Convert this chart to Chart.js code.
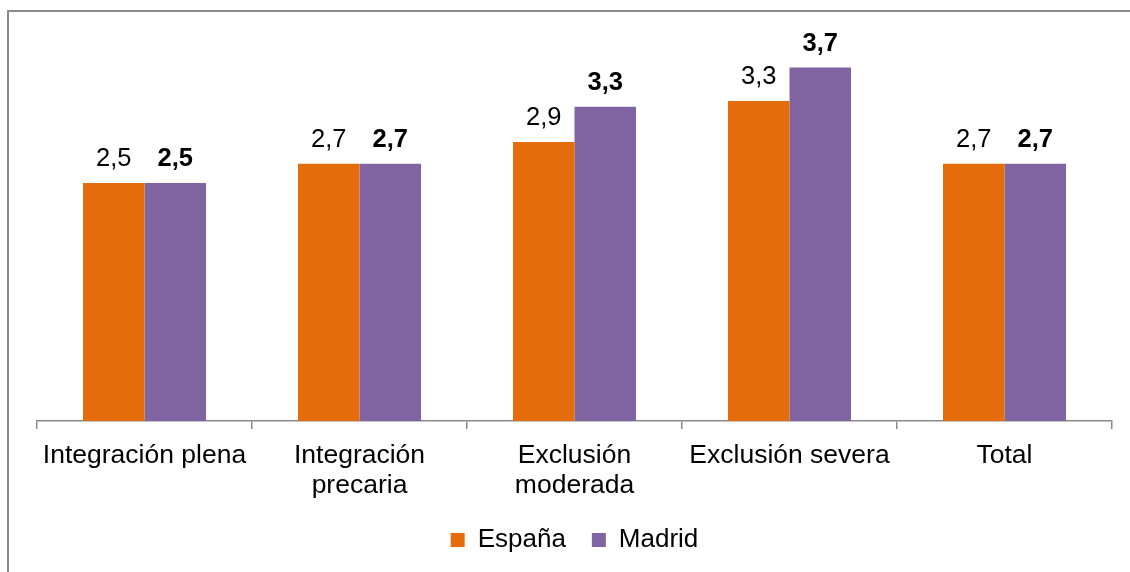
<!DOCTYPE html>
<html>
<head>
<meta charset="utf-8">
<script src="https://cdn.jsdelivr.net/npm/chart.js@4"></script>
<style>
  html, body { margin: 0; padding: 0; background: #ffffff; }
  #wrap { position: absolute; left: 0; top: 0; width: 1130px; height: 572px; }
</style>
</head>
<body>
<div id="wrap"><canvas id="c" width="1130" height="572"></canvas></div>
<script>
const categories = [
  'Integración plena',
  ['Integración', 'precaria'],
  ['Exclusión', 'moderada'],
  'Exclusión severa',
  'Total'
];
const seriesNames = ['España', 'Madrid'];
const espana = [2.5, 2.7, 2.93, 3.36, 2.7];
const madrid = [2.5, 2.7, 3.3, 3.71, 2.7];
const espanaLabels = ['2,5', '2,7', '2,9', '3,3', '2,7'];
const madridLabels = ['2,5', '2,7', '3,3', '3,7', '2,7'];

const FONT = "'Liberation Sans', Arial, sans-serif";

const framePlugin = {
  id: 'frame',
  beforeDraw(chart) {
    const ctx = chart.ctx;
    ctx.save();
    ctx.strokeStyle = '#8a8a8a';
    ctx.lineWidth = 2;
    ctx.beginPath();
    ctx.moveTo(8, 572);
    ctx.lineTo(8, 11);
    ctx.lineTo(1130, 11);
    ctx.stroke();
    ctx.restore();
  }
};

const valueLabelPlugin = {
  id: 'valueLabels',
  afterDatasetsDraw(chart) {
    const ctx = chart.ctx;
    const texts = [espanaLabels, madridLabels];
    ctx.save();
    ctx.fillStyle = '#000000';
    ctx.textAlign = 'center';
    ctx.textBaseline = 'alphabetic';
    chart.data.datasets.forEach((ds, i) => {
      const meta = chart.getDatasetMeta(i);
      ctx.font = (i === 1 ? 'bold ' : '') + '25.5px ' + FONT;
      meta.data.forEach((bar, j) => {
        ctx.fillText(texts[i][j], bar.x, bar.y - 17);
      });
    });
    ctx.restore();
  }
};

new Chart(document.getElementById('c'), {
  type: 'bar',
  data: {
    labels: categories,
    datasets: [
      { label: seriesNames[0], data: espana, backgroundColor: '#E46C0A', borderWidth: 0 },
      { label: seriesNames[1], data: madrid, backgroundColor: '#8064A2', borderWidth: 0 }
    ]
  },
  options: {
    responsive: false,
    animation: false,
    devicePixelRatio: 1,
    layout: { padding: { top: 40, left: 37, right: 18, bottom: 9 } },
    datasets: { bar: { categoryPercentage: 0.572, barPercentage: 1.0 } },
    scales: {
      x: {
        grid: { display: true, drawOnChartArea: false, drawTicks: true, tickLength: 8, color: '#898989', lineWidth: 1.5 },
        border: { display: true, color: '#898989', width: 1.5 },
        ticks: { color: '#000000', font: { family: FONT, size: 26.5, lineHeight: '30px' }, padding: 12, maxRotation: 0, autoSkip: false },
        afterFit(scale) { scale.height = 80; }
      },
      y: { display: false, min: 0, max: 4 }
    },
    plugins: {
      legend: {
        position: 'bottom',
        labels: {
          color: '#000000',
          font: { family: FONT, size: 26 },
          boxWidth: 14,
          boxHeight: 14,
          padding: 26
        }
      },
      tooltip: { enabled: false }
    }
  },
  plugins: [framePlugin, valueLabelPlugin]
});
</script>
</body>
</html>
